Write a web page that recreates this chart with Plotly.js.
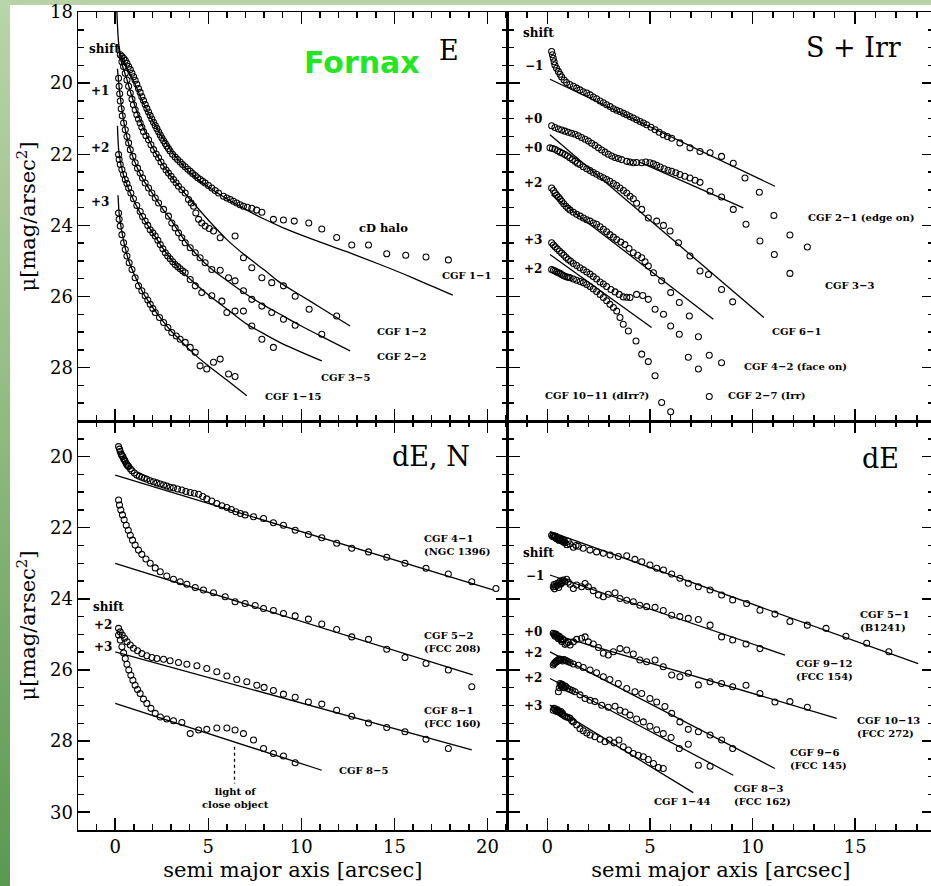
<!DOCTYPE html>
<html><head><meta charset="utf-8">
<script src="https://cdn.plot.ly/plotly-3.0.1.min.js"></script>
<style>
html,body{margin:0;padding:0;width:931px;height:886px;overflow:hidden;background:#b8d3a8;}
#strip{position:absolute;left:0;top:0;width:10px;height:886px;background:linear-gradient(to bottom,#b9d5aa 0%,#93bc83 45%,#5a9950 100%);}
#paper{position:absolute;left:10px;top:5px;width:926px;height:881px;background:#fff;}
#chart{position:absolute;left:0;top:0;width:936px;height:886px;}
</style></head><body>
<div id="strip"></div><div id="paper"></div><div id="chart"></div>
<script>
// ---------- Panel E (top left) ----------
const e11_x=[0.27,0.36,0.45,0.54,0.63,0.72,0.81,0.90,0.99,1.07,1.16,1.25,1.34,1.43,1.52,1.61,1.70,1.79,1.88,1.97,2.06,2.15,2.24,2.33,2.42,2.51,2.60,2.69,2.77,2.86,2.95,3.08,3.22,3.35,3.49,3.62,3.76,3.90,4.03,4.16,4.30,4.43,4.57,4.70,4.83,5.01,5.19,5.37,5.55,5.82,6.00,6.18,6.35,6.53,6.71,6.89,7.10,7.34,7.60,7.88,8.50,9.04,9.62,10.40,11.10,11.90,12.71,13.61,14.59,15.61,16.70,17.90];
const e11_y=[19.20,19.25,19.30,19.36,19.44,19.53,19.62,19.72,19.82,19.92,20.03,20.15,20.26,20.38,20.49,20.60,20.71,20.81,20.91,21.01,21.10,21.19,21.28,21.37,21.46,21.54,21.62,21.70,21.77,21.84,21.91,22.00,22.08,22.15,22.22,22.29,22.35,22.42,22.48,22.54,22.60,22.66,22.71,22.76,22.81,22.88,22.95,23.02,23.09,23.18,23.23,23.27,23.32,23.37,23.42,23.46,23.49,23.52,23.57,23.63,23.83,23.85,23.88,23.93,24.10,24.34,24.55,24.55,24.80,24.84,24.89,24.97];
const e11_fx=[0.09,0.2,0.35,0.6,1.0,1.5,2.0,2.5,3.0,3.5,4.0,5.0,6.0,7.0,8.0,9.0,10.65,12.44,14.23,16.02,18.14];
const e11_fy=[18.0,18.95,19.3,19.55,19.95,20.55,21.05,21.5,21.9,22.22,22.5,22.92,23.25,23.55,23.82,24.06,24.4,24.74,25.1,25.48,25.96];

const e12_x=[0.36,0.45,0.54,0.63,0.72,0.81,0.90,0.98,1.07,1.16,1.25,1.34,1.43,1.52,1.65,1.79,1.92,2.06,2.20,2.33,2.46,2.60,2.73,2.86,3.00,3.13,3.27,3.40,3.58,3.76,3.94,4.08,4.21,4.33,4.48,4.65,4.83,5.05,5.28,5.64,6.44,6.89,7.34,7.88,8.41,9.04,9.67,10.42,11.90];
const e12_y=[19.40,19.53,19.72,19.91,20.09,20.28,20.45,20.61,20.75,20.89,21.01,21.12,21.24,21.36,21.48,21.59,21.73,21.87,21.99,22.10,22.22,22.34,22.44,22.53,22.62,22.71,22.80,22.90,23.00,23.09,23.27,23.37,23.46,23.65,23.83,23.93,24.02,24.09,24.16,24.35,24.30,24.91,25.19,25.47,25.61,25.70,25.99,26.36,26.55];
const e12_fx=[0.15,0.3,0.6,1.0,1.5,2.0,2.5,3.0,3.5,4.0,5.0,6.0,7.0,8.0,8.86,10.0,11.0,12.62];
const e12_fy=[18.9,19.35,19.85,20.55,21.25,21.8,22.25,22.62,22.95,23.25,23.85,24.4,24.85,25.25,25.61,25.98,26.3,26.83];

const e22_x=[0.18,0.21,0.24,0.27,0.32,0.38,0.45,0.54,0.63,0.72,0.81,0.95,1.07,1.20,1.34,1.47,1.61,1.79,1.97,2.15,2.33,2.60,2.86,3.04,3.22,3.40,3.58,3.76,4.03,4.30,4.56,4.83,5.19,5.64,6.09,6.44,6.89,7.34,7.88,8.41,9.04,9.67,11.10];
const e22_y=[19.86,20.09,20.30,20.50,20.72,20.92,21.12,21.31,21.50,21.68,21.87,22.06,22.24,22.39,22.53,22.67,22.81,22.95,23.09,23.23,23.37,23.55,23.74,23.93,24.07,24.21,24.35,24.49,24.63,24.77,24.91,25.05,25.24,25.26,25.47,25.56,25.84,26.08,26.27,26.45,26.64,26.81,27.06];
const e22_fx=[0.12,0.25,0.5,0.8,1.2,1.6,2.0,2.5,3.0,3.5,4.0,5.0,6.0,7.0,8.0,8.86,10.0,11.0,12.62];
const e22_fy=[19.6,20.3,21.2,21.85,22.4,22.8,23.1,23.5,23.85,24.25,24.6,25.15,25.55,25.92,26.25,26.5,26.83,27.1,27.53];

const e35_x=[0.18,0.21,0.27,0.36,0.45,0.54,0.63,0.72,0.84,0.98,1.16,1.34,1.47,1.61,1.75,1.88,2.02,2.15,2.29,2.42,2.56,2.69,2.82,2.95,3.09,3.22,3.36,3.49,3.63,3.76,4.03,4.30,4.65,5.19,5.73,6.00,6.44,6.89,7.34,7.88,8.50];
const e35_y=[22.01,22.15,22.29,22.43,22.57,22.71,22.82,22.95,23.09,23.25,23.44,23.61,23.75,23.88,24.00,24.12,24.21,24.30,24.42,24.54,24.66,24.77,24.86,24.94,25.02,25.10,25.16,25.22,25.28,25.33,25.52,25.70,25.89,25.98,26.13,26.45,26.41,26.41,26.83,27.20,27.43];
const e35_fx=[0.12,0.2,0.4,0.7,1.0,1.5,2.0,2.5,3.0,3.5,4.0,5.0,6.0,7.0,8.0,9.0,11.1];
const e35_fy=[21.2,21.95,22.5,22.95,23.3,23.8,24.2,24.6,24.95,25.25,25.5,25.95,26.35,26.75,27.05,27.33,27.81];

const e115_x=[0.18,0.21,0.27,0.36,0.45,0.54,0.63,0.75,0.90,1.07,1.25,1.43,1.61,1.75,1.88,2.02,2.15,2.38,2.60,2.83,3.04,3.28,3.49,3.76,4.03,4.30,4.56,4.92,5.28,5.64,6.09,6.44];
const e115_y=[23.65,23.83,24.02,24.26,24.49,24.68,24.86,25.05,25.24,25.47,25.70,25.84,25.98,26.10,26.22,26.34,26.45,26.59,26.73,26.87,27.01,27.11,27.20,27.29,27.43,27.57,27.95,28.04,27.85,27.76,28.18,28.25];
const e115_fx=[0.15,0.22,0.4,0.7,1.0,1.5,2.0,2.5,3.0,3.5,4.0,5.0,6.0,7.07];
const e115_fy=[23.15,23.7,24.3,24.95,25.35,25.9,26.3,26.65,26.97,27.23,27.5,27.95,28.35,28.79];

// ---------- Panel S + Irr (top right) ----------
const s21_x=[0.21,0.25,0.29,0.33,0.37,0.45,0.54,0.62,0.70,0.82,0.94,1.10,1.27,1.43,1.59,1.75,1.92,2.08,2.24,2.40,2.57,2.73,2.89,3.06,3.22,3.38,3.54,3.71,3.87,4.03,4.19,4.35,4.52,4.68,4.84,5.05,5.25,5.45,5.65,5.85,6.06,6.46,6.95,7.44,7.93,8.49,9.06,9.63,10.33,11.04,11.82,12.67];
const s21_y=[19.11,19.20,19.30,19.40,19.49,19.58,19.67,19.75,19.83,19.91,19.98,20.04,20.09,20.14,20.19,20.24,20.28,20.33,20.39,20.44,20.50,20.55,20.61,20.66,20.72,20.76,20.80,20.85,20.89,20.94,20.98,21.03,21.08,21.12,21.17,21.24,21.31,21.38,21.45,21.50,21.55,21.68,21.82,21.92,21.96,22.06,22.25,22.67,23.07,23.72,24.27,24.61];
const s21_fx=[0.13,11.09];
const s21_fy=[19.89,22.90];

const s33_x=[0.21,0.37,0.54,0.70,0.86,1.02,1.18,1.35,1.51,1.67,1.84,2.00,2.16,2.32,2.49,2.65,2.81,2.97,3.14,3.30,3.46,3.62,3.87,4.03,4.19,4.35,4.60,4.80,5.00,5.17,5.33,5.50,5.69,5.88,6.06,6.26,6.46,6.70,6.95,7.20,7.44,7.93,8.49,9.06,9.68,10.36,11.06,11.82];
const s33_y=[21.20,21.25,21.29,21.32,21.35,21.38,21.41,21.44,21.48,21.53,21.58,21.63,21.69,21.75,21.82,21.88,21.94,22.00,22.05,22.09,22.12,22.15,22.20,22.22,22.24,22.23,22.24,22.22,22.24,22.27,22.31,22.36,22.41,22.45,22.48,22.52,22.57,22.62,22.67,22.73,22.79,23.04,23.20,23.55,23.97,24.44,24.82,25.35];
const s33_fx=[4.5,9.55];
const s33_fy=[22.22,23.51];

const s61_x=[0.13,0.25,0.37,0.50,0.62,0.74,0.86,0.98,1.10,1.22,1.35,1.47,1.59,1.75,1.92,2.08,2.24,2.40,2.57,2.73,2.89,3.05,3.22,3.38,3.54,3.71,3.87,4.03,4.19,4.35,4.60,4.92,5.33,5.66,5.98,6.39,6.95,7.44,7.85,8.49,9.03];
const s61_y=[21.82,21.84,21.86,21.90,21.94,21.97,22.01,22.05,22.10,22.15,22.20,22.25,22.29,22.35,22.41,22.46,22.51,22.56,22.62,22.66,22.71,22.76,22.82,22.88,22.95,23.02,23.09,23.18,23.25,23.38,23.55,23.79,23.88,24.00,24.16,24.49,24.86,25.28,25.38,25.80,26.15];
const s61_fx=[0.13,10.55];
const s61_fy=[21.45,26.59];

const s42_x=[0.21,0.30,0.38,0.46,0.54,0.62,0.70,0.80,0.91,1.01,1.11,1.27,1.43,1.60,1.76,1.92,2.08,2.24,2.40,2.57,2.73,2.89,3.05,3.22,3.38,3.58,3.78,3.98,4.19,4.40,4.60,4.76,4.92,5.17,5.57,6.01,6.43,6.92,7.36,7.89,8.49];
const s42_y=[22.95,23.02,23.09,23.15,23.20,23.26,23.32,23.39,23.46,23.52,23.57,23.63,23.69,23.74,23.79,23.84,23.88,23.93,23.97,24.04,24.11,24.18,24.26,24.33,24.40,24.47,24.54,24.65,24.77,24.84,24.91,25.02,25.14,25.33,25.56,25.89,26.17,26.55,27.13,27.65,27.86];
const s42_fx=[0.2,8.09];
const s42_fy=[23.14,26.64];

const s27_x=[0.21,0.30,0.38,0.48,0.59,0.70,0.81,0.91,1.02,1.14,1.27,1.43,1.59,1.76,1.92,2.08,2.24,2.40,2.57,2.73,2.89,3.10,3.30,3.50,3.70,3.87,4.03,4.35,4.65,4.92,5.25,5.66,6.01,6.43,6.87,7.36,7.89];
const s27_y=[24.49,24.55,24.60,24.66,24.72,24.78,24.84,24.90,24.96,25.01,25.07,25.13,25.19,25.25,25.31,25.37,25.44,25.51,25.59,25.65,25.72,25.80,25.87,25.94,26.01,26.02,26.03,25.94,25.97,26.08,26.36,26.50,26.83,27.06,27.71,28.04,28.81];

const s1011_x=[0.21,0.30,0.38,0.46,0.54,0.62,0.70,0.78,0.86,0.95,1.03,1.11,1.27,1.43,1.60,1.76,1.92,2.08,2.24,2.40,2.57,2.73,2.89,3.05,3.22,3.38,3.54,3.70,3.95,4.32,4.60,4.92,5.25,5.57,6.01];
const s1011_y=[25.24,25.26,25.28,25.31,25.33,25.35,25.38,25.41,25.43,25.45,25.46,25.47,25.51,25.54,25.58,25.61,25.66,25.72,25.79,25.86,25.94,26.03,26.12,26.22,26.31,26.41,26.59,26.78,26.97,27.25,27.62,27.83,28.23,28.98,29.24];
const s1011_fx=[0.13,5.08];
const s1011_fy=[24.82,26.87];

// ---------- Panel dE, N (bottom left) ----------
const n41_x=[0.18,0.23,0.27,0.32,0.36,0.41,0.45,0.50,0.54,0.59,0.63,0.68,0.72,0.81,0.90,1.03,1.16,1.30,1.43,1.56,1.70,1.88,2.06,2.24,2.42,2.60,2.77,2.95,3.13,3.35,3.58,3.80,4.03,4.25,4.48,4.70,4.92,5.19,5.46,5.73,6.00,6.24,6.48,6.73,6.98,7.43,7.97,8.50,9.04,9.67,10.38,11.10,11.90,12.71,13.61,14.59,15.57,16.70,17.90,19.16,20.46];
const n41_y=[19.72,19.79,19.86,19.93,19.97,20.00,20.06,20.10,20.14,20.19,20.23,20.26,20.28,20.34,20.40,20.46,20.52,20.55,20.58,20.61,20.64,20.68,20.71,20.74,20.77,20.80,20.83,20.86,20.88,20.91,20.94,20.98,21.01,21.03,21.06,21.12,21.19,21.25,21.32,21.38,21.43,21.49,21.55,21.60,21.64,21.69,21.74,21.86,21.93,22.07,22.19,22.28,22.44,22.58,22.68,22.83,23.00,23.14,23.30,23.52,23.71];
const n41_fx=[0,20.3];
const n41_fy=[20.52,23.75];

const n52_x=[0.18,0.23,0.30,0.39,0.48,0.59,0.70,0.81,0.93,1.07,1.25,1.43,1.65,1.88,2.15,2.42,2.77,3.13,3.49,3.85,4.30,4.74,5.28,5.91,6.44,6.98,7.52,7.97,8.50,9.04,9.67,10.38,11.10,11.90,12.71,13.61,14.59,15.57,16.70,17.90,19.16];
const n52_y=[21.22,21.36,21.50,21.64,21.78,21.93,22.07,22.21,22.35,22.49,22.63,22.75,22.88,23.00,23.13,23.24,23.36,23.45,23.52,23.59,23.68,23.75,23.83,23.94,24.08,24.13,24.19,24.27,24.33,24.41,24.48,24.57,24.71,24.86,25.07,25.14,25.42,25.65,25.82,26.00,26.47];
const n52_fx=[0,19.21];
const n52_fy=[23.0,26.14];

const n81_x=[0.18,0.27,0.38,0.50,0.64,0.81,0.98,1.20,1.43,1.70,1.97,2.24,2.60,2.95,3.40,3.85,4.39,4.92,5.46,6.00,6.53,7.07,7.61,8.00,8.50,9.04,9.67,10.38,11.10,11.90,12.71,13.61,14.59,15.57,16.70,17.90];
const n81_y=[24.83,24.93,25.02,25.11,25.21,25.30,25.39,25.46,25.54,25.60,25.65,25.68,25.70,25.74,25.79,25.84,25.88,25.96,26.05,26.17,26.27,26.33,26.43,26.49,26.58,26.68,26.77,26.90,26.96,27.13,27.30,27.49,27.62,27.74,27.95,28.21];
const n81_fx=[0,19.16];
const n81_fy=[25.49,28.25];

const n85_x=[0.18,0.27,0.36,0.45,0.54,0.63,0.73,0.84,0.95,1.07,1.20,1.34,1.52,1.70,1.92,2.15,2.42,2.77,3.13,3.58,4.03,4.48,4.92,5.46,6.00,6.44,6.89,7.43,7.97,8.50,9.04,9.67];
const n85_y=[25.02,25.16,25.35,25.52,25.68,25.84,26.00,26.15,26.29,26.43,26.55,26.66,26.82,26.94,27.08,27.22,27.32,27.38,27.43,27.48,27.79,27.69,27.67,27.63,27.63,27.69,27.79,27.97,28.21,28.35,28.42,28.61];
const n85_fx=[0,11.10];
const n85_fy=[26.94,28.82];

const close_x=[6.41,6.41];
const close_y=[28.16,29.19];

// ---------- Panel dE (bottom right) ----------
const d51_x=[0.21,0.26,0.30,0.34,0.37,0.41,0.45,0.50,0.54,0.58,0.62,0.66,0.70,0.74,0.78,0.82,0.86,0.95,1.02,1.10,1.27,1.40,1.51,1.75,2.08,2.40,2.73,3.06,3.46,3.87,4.27,4.60,5.00,5.33,5.66,6.06,6.46,6.87,7.36,7.93,8.49,9.03,9.71,10.36,11.09,11.82,12.67,13.58,14.55,15.56,16.64];
const d51_y=[22.21,22.25,22.22,22.26,22.27,22.24,22.31,22.28,22.33,22.36,22.30,22.34,22.37,22.33,22.40,22.37,22.42,22.48,22.38,22.46,22.55,22.50,22.52,22.58,22.63,22.68,22.72,22.77,22.81,22.79,22.89,22.96,23.05,23.14,23.19,23.30,23.42,23.56,23.66,23.75,23.89,24.03,24.13,24.32,24.43,24.64,24.74,24.83,25.05,25.25,25.49];
const d51_fx=[0.13,18.07];
const d51_fy=[22.11,25.82];

const d912_x=[0.29,0.33,0.35,0.40,0.46,0.50,0.55,0.58,0.62,0.66,0.70,0.74,0.78,0.86,0.94,1.02,1.11,1.27,1.43,1.67,1.84,2.00,2.24,2.49,2.73,2.97,3.30,3.54,3.87,4.19,4.51,4.84,5.25,5.65,6.06,6.46,6.87,7.36,7.93,8.49,9.03,9.68,10.36];
const d912_y=[23.66,23.60,23.72,23.65,23.57,23.62,23.68,23.55,23.50,23.58,23.55,23.49,23.47,23.52,23.45,23.53,23.59,23.71,23.61,23.66,23.57,23.66,23.77,23.89,23.94,23.87,23.83,23.99,24.04,24.08,24.18,24.22,24.24,24.33,24.46,24.50,24.55,24.58,24.74,25.07,25.16,25.27,25.40];
const d912_fx=[0.13,11.58];
const d912_fy=[23.33,25.58];

const d1013_x=[0.29,0.34,0.38,0.42,0.46,0.50,0.54,0.58,0.62,0.66,0.70,0.74,0.78,0.86,0.94,1.02,1.11,1.27,1.43,1.67,1.84,2.00,2.24,2.49,2.73,2.97,3.22,3.54,3.87,4.19,4.51,4.84,5.25,5.65,6.06,6.46,6.87,7.36,7.93,8.49,9.03,9.68,10.36,11.09,11.82,12.67];
const d1013_y=[24.97,25.00,25.05,24.99,25.02,25.08,25.12,25.05,25.09,25.15,25.20,25.12,25.16,25.28,25.25,25.22,25.30,25.21,25.14,25.11,25.07,25.21,25.27,25.37,25.53,25.58,25.49,25.40,25.44,25.55,25.72,25.77,25.72,25.91,26.14,26.19,26.09,26.42,26.33,26.38,26.47,26.43,26.66,26.90,26.89,27.05];
const d1013_fx=[0.13,14.10];
const d1013_fy=[24.97,27.36];

const d96_x=[0.29,0.33,0.38,0.42,0.46,0.50,0.54,0.58,0.62,0.68,0.75,0.80,0.86,0.93,1.00,1.11,1.27,1.51,1.75,2.08,2.40,2.73,3.05,3.46,3.87,4.27,4.60,5.00,5.33,5.73,6.06,6.46,6.87,7.36,7.93,8.49,9.03];
const d96_y=[25.86,25.82,25.80,25.76,25.77,25.73,25.72,25.69,25.70,25.72,25.75,25.71,25.72,25.74,25.76,25.79,25.83,25.87,25.93,26.00,26.08,26.19,26.27,26.38,26.52,26.61,26.66,26.80,26.90,27.03,27.22,27.46,27.67,27.74,27.83,27.97,28.21];
const d96_fx=[0.13,11.09];
const d96_fy=[25.49,28.77];

const d83_x=[0.54,0.58,0.62,0.65,0.68,0.72,0.75,0.79,0.83,0.87,0.91,1.00,1.10,1.22,1.35,1.59,1.84,2.08,2.32,2.65,2.97,3.30,3.54,3.79,4.03,4.35,4.68,5.00,5.33,5.65,6.03,6.43,6.87,7.36,7.93];
const d83_y=[26.61,26.50,26.38,26.42,26.45,26.40,26.43,26.48,26.50,26.45,26.47,26.52,26.55,26.58,26.61,26.70,26.80,26.85,26.89,26.99,27.05,27.02,27.13,27.18,27.27,27.38,27.46,27.58,27.68,27.79,27.90,28.21,28.09,28.68,28.71];
const d83_fx=[0.13,9.06];
const d83_fy=[26.24,28.96];

const d144_x=[0.29,0.33,0.38,0.42,0.46,0.50,0.54,0.58,0.62,0.66,0.70,0.74,0.78,0.86,0.94,1.02,1.11,1.19,1.27,1.43,1.59,1.75,1.92,2.08,2.32,2.57,2.81,3.02,3.25,3.49,3.70,3.95,4.19,4.43,4.68,4.92,5.17,5.41,5.65];
const d144_y=[27.13,27.08,27.10,27.15,27.17,27.12,27.15,27.19,27.20,27.17,27.24,27.22,27.27,27.30,27.32,27.34,27.36,27.42,27.46,27.55,27.65,27.71,27.77,27.83,27.88,27.95,28.02,27.97,28.05,27.97,28.16,28.25,28.35,28.40,28.44,28.52,28.63,28.74,28.77];
const d144_fx=[0.13,7.11];
const d144_fy=[26.99,29.45];

// ---------- drawing ----------
const SERIF='DejaVu Serif, serif';
function pts(x,y,xa,ya){return {type:'scatter',mode:'markers',x:x,y:y,xaxis:xa,yaxis:ya,hoverinfo:'skip',
  marker:{symbol:'circle-open',size:6,color:'#000',line:{width:1.05,color:'#000'}}};}
function fit(x,y,xa,ya,curved,dash){return {type:'scatter',mode:'lines',x:x,y:y,xaxis:xa,yaxis:ya,hoverinfo:'skip',
  line:{color:'#000',width:1.3,shape:curved?'spline':'linear',smoothing:0.8,dash:dash||'solid'}};}

const traces=[
  fit(e11_fx,e11_fy,'x','y',true),pts(e11_x,e11_y,'x','y'),
  fit(e12_fx,e12_fy,'x','y',true),pts(e12_x,e12_y,'x','y'),
  fit(e22_fx,e22_fy,'x','y',true),pts(e22_x,e22_y,'x','y'),
  fit(e35_fx,e35_fy,'x','y',true),pts(e35_x,e35_y,'x','y'),
  fit(e115_fx,e115_fy,'x','y',true),pts(e115_x,e115_y,'x','y'),

  fit(s21_fx,s21_fy,'x2','y2'),pts(s21_x,s21_y,'x2','y2'),
  fit(s33_fx,s33_fy,'x2','y2'),pts(s33_x,s33_y,'x2','y2'),
  fit(s61_fx,s61_fy,'x2','y2'),pts(s61_x,s61_y,'x2','y2'),
  fit(s42_fx,s42_fy,'x2','y2'),pts(s42_x,s42_y,'x2','y2'),
  pts(s27_x,s27_y,'x2','y2'),
  fit(s1011_fx,s1011_fy,'x2','y2'),pts(s1011_x,s1011_y,'x2','y2'),

  fit(n41_fx,n41_fy,'x3','y3'),pts(n41_x,n41_y,'x3','y3'),
  fit(n52_fx,n52_fy,'x3','y3'),pts(n52_x,n52_y,'x3','y3'),
  fit(n81_fx,n81_fy,'x3','y3'),pts(n81_x,n81_y,'x3','y3'),
  fit(n85_fx,n85_fy,'x3','y3'),pts(n85_x,n85_y,'x3','y3'),
  fit(close_x,close_y,'x3','y3',false,'3px,3px'),

  fit(d51_fx,d51_fy,'x4','y4'),pts(d51_x,d51_y,'x4','y4'),
  fit(d912_fx,d912_fy,'x4','y4'),pts(d912_x,d912_y,'x4','y4'),
  fit(d1013_fx,d1013_fy,'x4','y4'),pts(d1013_x,d1013_y,'x4','y4'),
  fit(d96_fx,d96_fy,'x4','y4'),pts(d96_x,d96_y,'x4','y4'),
  fit(d83_fx,d83_fy,'x4','y4'),pts(d83_x,d83_y,'x4','y4'),
  fit(d144_fx,d144_fy,'x4','y4'),pts(d144_x,d144_y,'x4','y4')
];

function ax(extra){return Object.assign({showline:true,linecolor:'#000',linewidth:1.5,mirror:'allticks',
  ticks:'inside',ticklen:12,tickwidth:1.5,tickcolor:'#000',showgrid:false,zeroline:false,
  tickfont:{family:SERIF,size:18,color:'#000'}},extra);}
const XL=[-2,21.09], XR=[-1.93,18.84], YT=[29.5,18], YB=[30.5,19];
const xminor={dtick:1,ticklen:6,tickwidth:1.5,tickcolor:'#000',ticks:'inside'};
const yminor={dtick:0.5,ticklen:6,tickwidth:1.5,tickcolor:'#000',ticks:'inside'};
const xtitle={text:'semi major axis [arcsec]',font:{family:SERIF,size:21,color:'#000'},standoff:6};
const ytitle={text:'μ[mag/arsec<sup>2</sup>]',font:{family:SERIF,size:21,color:'#000'},standoff:8};
const D=0.502;

function lab(t,x,y,xr,yr,opt){return Object.assign({text:t,x:x,y:y,xref:xr,yref:yr,showarrow:false,
  font:{family:SERIF,size:10,color:'#000',weight:'bold'}},opt||{});}
const big={font:{family:SERIF,size:27,color:'#000'}};
const sh={font:{family:SERIF,size:12,color:'#000',weight:'bold'}};
const left={xanchor:'left',align:'left'};

const annotations=[
  lab('Fornax',13.27,19.43,'x','y',{font:{family:'DejaVu Sans, sans-serif',size:30,color:'#22e622',weight:'bold'}}),
  lab('E',17.94,19.07,'x','y',big),
  lab('cD halo',14.41,24.07,'x','y',{font:{family:SERIF,size:11.5,color:'#000',weight:'bold'}}),
  lab('CGF 1−1',18.89,25.40,'x','y'),
  lab('CGF 1−2',15.36,26.98,'x','y'),
  lab('CGF 2−2',15.36,27.68,'x','y'),
  lab('CGF 3−5',12.35,28.27,'x','y'),
  lab('CGF 1−15',9.56,28.80,'x','y'),
  lab('shift',-0.59,19.04,'x','y',sh),
  lab('+1',-0.81,20.22,'x','y',sh),
  lab('+2',-0.81,21.81,'x','y',sh),
  lab('+3',-0.81,23.33,'x','y',sh),

  lab('S + Irr',14.93,19.01,'x2','y2',big),
  lab('shift',-0.44,18.60,'x2','y2',sh),
  lab('−1',-0.63,19.51,'x2','y2',sh),
  lab('+0',-0.68,21.0,'x2','y2',sh),
  lab('+0',-0.68,21.82,'x2','y2',sh),
  lab('+2',-0.68,22.81,'x2','y2',sh),
  lab('+3',-0.68,24.40,'x2','y2',sh),
  lab('+2',-0.68,25.22,'x2','y2',sh),
  lab('CGF 2−1 (edge on)',15.27,23.79,'x2','y2'),
  lab('CGF 3−3',14.74,25.69,'x2','y2'),
  lab('CGF 6−1',12.15,26.97,'x2','y2'),
  lab('CGF 4−2 (face on)',12.10,27.97,'x2','y2'),
  lab('CGF 10−11 (dIrr?)',2.44,28.77,'x2','y2'),
  lab('CGF 2−7 (Irr)',10.69,28.77,'x2','y2'),

  lab('dE, N',16.97,20.0,'x3','y3',big),
  lab('CGF 4−1<br>(NGC 1396)',16.46,22.49,'x3','y3',left),
  lab('CGF 5−2<br>(FCC 208)',16.46,25.21,'x3','y3',left),
  lab('CGF 8−1<br>(FCC 160)',16.46,27.32,'x3','y3',left),
  lab('CGF 8−5',13.32,28.82,'x3','y3'),
  lab('light of<br>close object',6.45,29.6,'x3','y3'),
  lab('shift',-0.38,24.22,'x3','y3',sh),
  lab('+2',-0.64,24.74,'x3','y3',sh),
  lab('+3',-0.64,25.35,'x3','y3',sh),

  lab('dE',16.25,20.05,'x4','y4',big),
  lab('shift',-0.44,22.72,'x4','y4',sh),
  lab('−1',-0.6,23.35,'x4','y4',sh),
  lab('+0',-0.68,24.93,'x4','y4',sh),
  lab('+2',-0.68,25.52,'x4','y4',sh),
  lab('+2',-0.68,26.24,'x4','y4',sh),
  lab('+3',-0.68,27.02,'x4','y4',sh),
  lab('CGF 5−1<br>(B1241)',15.15,24.62,'x4','y4',left),
  lab('CGF 9−12<br>(FCC 154)',12.03,26.0,'x4','y4',left),
  lab('CGF 10−13<br>(FCC 272)',14.99,27.6,'x4','y4',left),
  lab('CGF 9−6<br>(FCC 145)',11.74,28.5,'x4','y4',left),
  lab('CGF 8−3<br>(FCC 162)',8.98,29.51,'x4','y4',left),
  lab('CGF 1−44',6.56,29.71,'x4','y4')
];

const layout={
  width:936,height:886,margin:{l:78,r:2,t:12,b:56},
  paper_bgcolor:'rgba(0,0,0,0)',plot_bgcolor:'rgba(0,0,0,0)',showlegend:false,
  xaxis:ax({domain:[0,D],anchor:'y',range:XL,dtick:5,tick0:0,minor:xminor,showticklabels:false}),
  yaxis:ax({domain:[0.5,1],anchor:'x',range:YT,dtick:2,tick0:0,minor:yminor,title:ytitle}),
  xaxis2:ax({domain:[D,1],anchor:'y2',range:XR,dtick:5,tick0:0,minor:xminor,showticklabels:false}),
  yaxis2:ax({domain:[0.5,1],anchor:'x2',range:YT,dtick:2,tick0:0,minor:yminor,showticklabels:false}),
  xaxis3:ax({domain:[0,D],anchor:'y3',range:XL,dtick:5,tick0:0,minor:xminor,title:xtitle}),
  yaxis3:ax({domain:[0,0.5],anchor:'x3',range:YB,dtick:2,tick0:0,minor:yminor,title:ytitle}),
  xaxis4:ax({domain:[D,1],anchor:'y4',range:XR,dtick:5,tick0:0,minor:xminor,title:xtitle}),
  yaxis4:ax({domain:[0,0.5],anchor:'x4',range:YB,dtick:2,tick0:0,minor:yminor,showticklabels:false}),
  annotations:annotations
};
Plotly.newPlot('chart',traces,layout,{staticPlot:true,displayModeBar:false});
</script>
</body></html>
